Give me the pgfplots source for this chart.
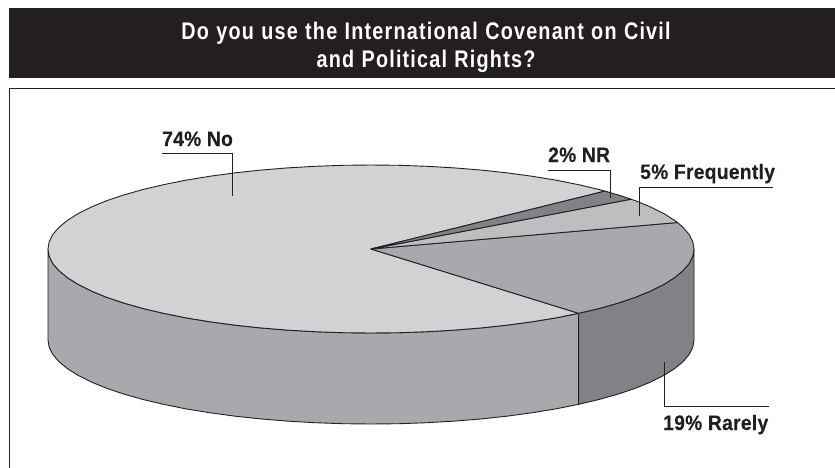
\documentclass[border=0pt]{standalone}
\usepackage{pgfplots}
\pgfplotsset{compat=1.18}
\usepackage{fontspec}
\setmainfont{Liberation Sans}
\newfontfamily\titlefont[FakeStretch=0.825,LetterSpace=5,WordSpace=1.1]{Liberation Sans Bold}
\newfontfamily\labelfont[FakeStretch=0.915,LetterSpace=1.5,FakeBold=0.3]{Liberation Sans Bold}
\definecolor{ink}{HTML}{231F20}
\definecolor{banner}{HTML}{231F20}
\definecolor{noTop}{HTML}{D1D2D4}
\definecolor{noSide}{HTML}{A7A9AC}
\definecolor{rarelyTop}{HTML}{A7A9AC}
\definecolor{rarelySide}{HTML}{808285}
\definecolor{freqTop}{HTML}{BCBEC0}
\definecolor{nrTop}{HTML}{808285}
\begin{document}
\begin{tikzpicture}
\begin{axis}[
  x=1pt, y=-1pt,
  xmin=0, xmax=835, ymin=0, ymax=467,
  hide axis, clip=true,
  every axis plot/.append style={no marks, draw=ink, line width=0.9pt, line join=round},
]
\path[use as bounding box] (axis cs:0,0) rectangle (axis cs:835,467);
% heading band and frame
\fill[banner] (axis cs:9,8) rectangle (axis cs:835,77.5);
\draw[ink, line width=1pt] (axis cs:9.5,470) -- (axis cs:9.5,88) -- (axis cs:838,88);

% side wall: No (74%)
\addplot[fill=noSide] coordinates {
 (48,249) (49.2,256.3) (52.9,263.6) (59,270.7) (67.5,277.7) (78.3,284.5) (91.3,291)
 (106.4,297.2) (123.6,303) (142.6,308.4) (163.4,313.3) (185.7,317.8) (209.5,321.7)
 (234.5,325.1) (260.5,327.9) (287.4,330.1) (314.9,331.7) (342.8,332.7) (371,333)
 (399.2,332.7) (427.1,331.7) (454.6,330.1) (481.5,327.9) (507.5,325.1) (532.5,321.7)
 (556.3,317.8) (578.6,313.3) (578.6,404.3)
 (556.3,408.8) (532.5,412.7) (507.5,416.1) (481.5,418.9) (454.6,421.1) (427.1,422.7)
 (399.2,423.7) (371,424) (342.8,423.7) (314.9,422.7) (287.4,421.1) (260.5,418.9)
 (234.5,416.1) (209.5,412.7) (185.7,408.8) (163.4,404.3) (142.6,399.4) (123.6,394)
 (106.4,388.2) (91.3,382) (78.3,375.5) (67.5,368.7) (59,361.7) (52.9,354.6) (49.2,347.3) (48,340)
} -- cycle;

% side wall: Rarely (19%)
\addplot[fill=rarelySide] coordinates {
 (578.6,313.3) (599.4,308.4) (618.4,303) (635.6,297.2) (650.7,291) (663.7,284.5)
 (674.5,277.7) (683,270.7) (689.1,263.6) (692.8,256.3) (694,249) (694,340)
 (692.8,347.3) (689.1,354.6) (683,361.7) (674.5,368.7) (663.7,375.5) (650.7,382)
 (635.6,388.2) (618.4,394) (599.4,399.4) (578.6,404.3)
} -- cycle;

% top face: No (74%)
\addplot[fill=noTop] coordinates {
 (371,249) (604.9,191.1) (599.4,189.6) (578.6,184.7) (556.3,180.2) (532.5,176.3)
 (507.5,172.9) (481.5,170.1) (454.6,167.9) (427.1,166.3) (399.2,165.3) (371,165)
 (342.8,165.3) (314.9,166.3) (287.4,167.9) (260.5,170.1) (234.5,172.9) (209.5,176.3)
 (185.7,180.2) (163.4,184.7) (142.6,189.6) (123.6,195) (106.4,200.8) (91.3,207)
 (78.3,213.5) (67.5,220.3) (59,227.3) (52.9,234.4) (49.2,241.7) (48,249)
 (49.2,256.3) (52.9,263.6) (59,270.7) (67.5,277.7) (78.3,284.5) (91.3,291)
 (106.4,297.2) (123.6,303) (142.6,308.4) (163.4,313.3) (185.7,317.8) (209.5,321.7)
 (234.5,325.1) (260.5,327.9) (287.4,330.1) (314.9,331.7) (342.8,332.7) (371,333)
 (399.2,332.7) (427.1,331.7) (454.6,330.1) (481.5,327.9) (507.5,325.1) (532.5,321.7)
 (556.3,317.8) (578.6,313.3)
} -- cycle;

% top face: Rarely (19%)
\addplot[fill=rarelyTop] coordinates {
 (371,249) (578.6,313.3) (599.4,308.4) (618.4,303) (635.6,297.2) (650.7,291)
 (663.7,284.5) (674.5,277.7) (683,270.7) (689.1,263.6) (692.8,256.3) (694,249)
 (692.8,241.7) (689.1,234.4) (683,227.3) (677.5,222.5)
} -- cycle;

% top face: Frequently (5%)
\addplot[fill=freqTop] coordinates {
 (371,249) (677.5,222.5) (674.5,220.3) (663.7,213.5) (650.7,207) (635.6,200.8) (631,199.2)
} -- cycle;

% top face: NR (2%)
\addplot[fill=nrTop] coordinates {
 (371,249) (631,199.2) (618.4,195) (604.9,191.1)
} -- cycle;

% leader lines
\draw[ink, line width=0.9pt] (axis cs:162,153.5) -- (axis cs:232,153.5) -- (axis cs:232,196);
\draw[ink, line width=0.9pt] (axis cs:548,170) -- (axis cs:610,170) -- (axis cs:610,198);
\draw[ink, line width=0.9pt] (axis cs:773,187.5) -- (axis cs:639.5,187.5) -- (axis cs:639.5,216);
\draw[ink, line width=0.9pt] (axis cs:664.5,362) -- (axis cs:664.5,406) -- (axis cs:769,406);

% slice labels
\node[anchor=base west, inner sep=0pt, text=ink] at (axis cs:162,146) {\labelfont\fontsize{21}{25}\selectfont 74\% No};
\node[anchor=base west, inner sep=0pt, text=ink] at (axis cs:548,162) {\labelfont\fontsize{21}{25}\selectfont 2\% NR};
\node[anchor=base west, inner sep=0pt, text=ink] at (axis cs:640,179) {\labelfont\fontsize{21}{25}\selectfont 5\% Frequently};
\node[anchor=base west, inner sep=0pt, text=ink] at (axis cs:663,430) {\labelfont\fontsize{21}{25}\selectfont 19\% Rarely};

% heading
\node[anchor=base, inner sep=0pt, text=white] at (axis cs:426,39) {\titlefont\fontsize{24}{28}\selectfont Do you use the International Covenant on Civil};
\node[anchor=base, inner sep=0pt, text=white] at (axis cs:426,67) {\titlefont\fontsize{24}{28}\selectfont and Political Rights?};
\end{axis}
\end{tikzpicture}
\end{document}
